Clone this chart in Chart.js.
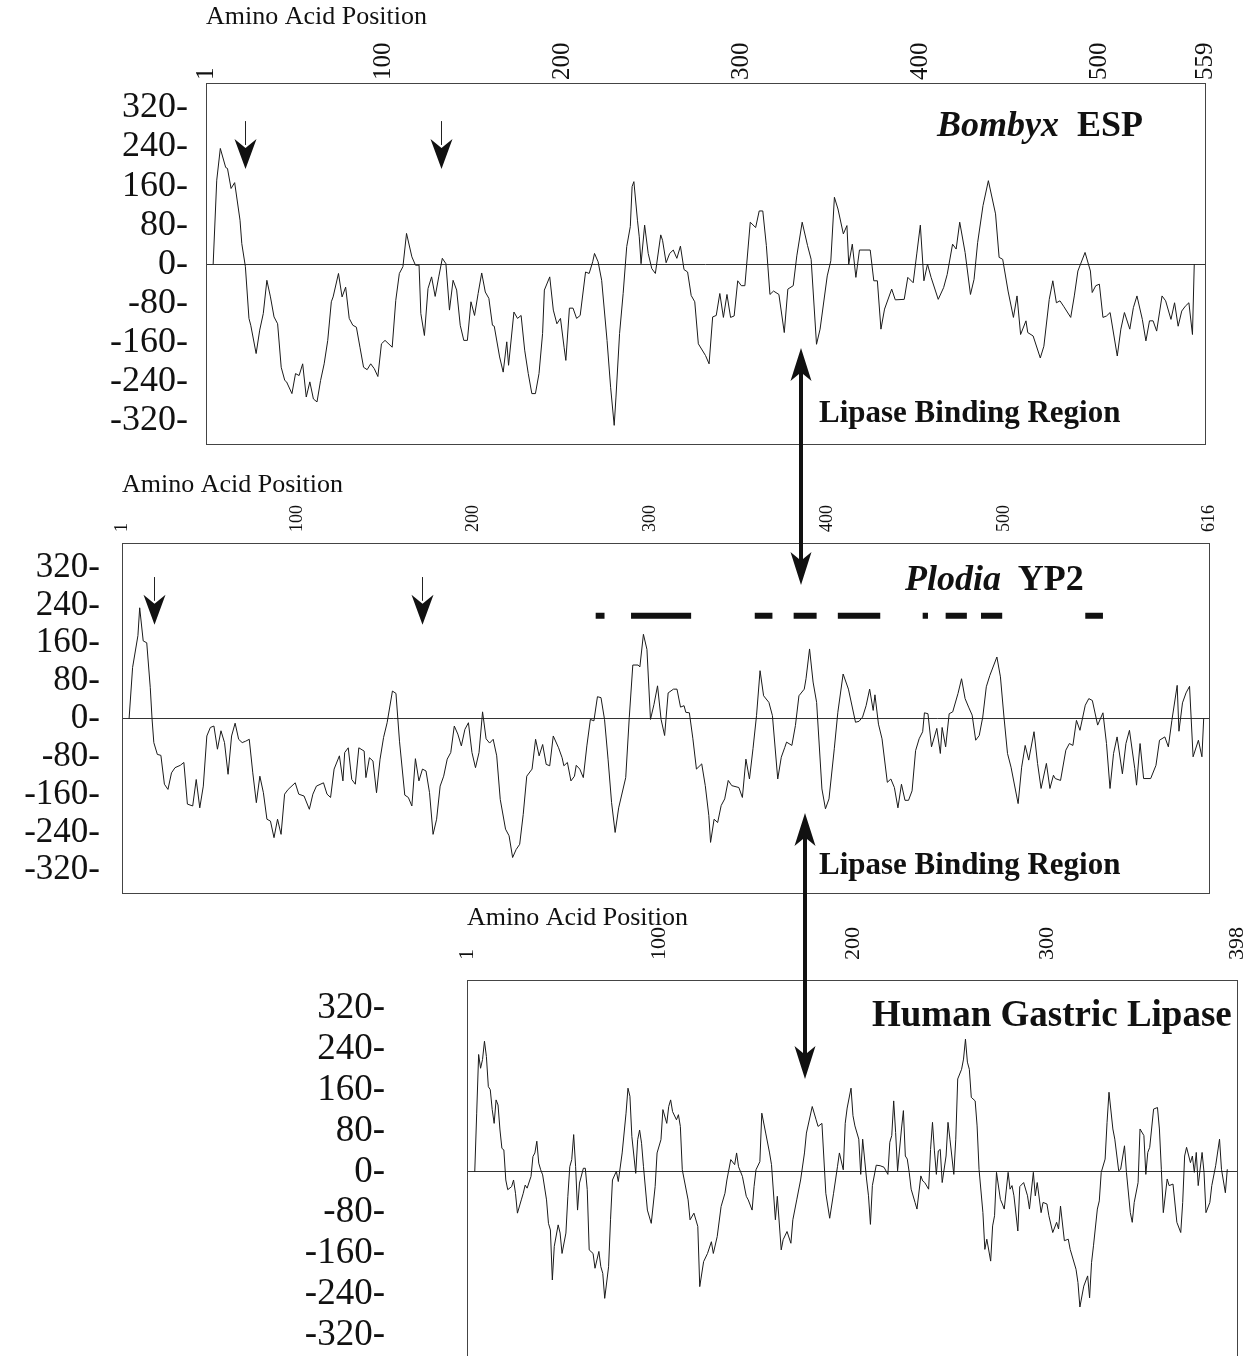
<!DOCTYPE html>
<html>
<head>
<meta charset="utf-8">
<script src="https://cdn.jsdelivr.net/npm/chart.js@4.4.1/dist/chart.umd.min.js"></script>
<style>
html,body{margin:0;padding:0;background:#fff;overflow:hidden;width:1257px;height:1356px;}
canvas{position:absolute;left:0;}
.lbl{position:absolute;font-family:'Liberation Serif','Times New Roman',serif;font-weight:bold;color:#111;white-space:nowrap;line-height:1;}
svg{position:absolute;left:0;top:0;}
</style>
</head>
<body>
<canvas id="c1" width="1257" height="484" style="top:0px"></canvas>
<canvas id="c2" width="1257" height="476" style="top:460px"></canvas>
<canvas id="c3" width="1257" height="600" style="top:875px"></canvas>

<div class="lbl" style="left:937px;top:106px;font-size:36px"><i>Bombyx</i>&nbsp; ESP</div>
<div class="lbl" style="left:905px;top:560px;font-size:36px"><i>Plodia</i>&nbsp; YP2</div>
<div class="lbl" style="left:872px;top:995px;font-size:37px">Human Gastric Lipase</div>
<div class="lbl" style="left:819px;top:396px;font-size:31px">Lipase Binding Region</div>
<div class="lbl" style="left:819px;top:848px;font-size:31px">Lipase Binding Region</div>

<svg width="1257" height="1356" viewBox="0 0 1257 1356">
  <g fill="#111">
    <path d="M801 348 L811.5 381 L803 374 L803 559 L811.5 552 L801 585 L790.5 552 L799 559 L799 374 L790.5 381 Z"/>
    <path d="M805 813 L815.5 846 L807 839 L807 1053 L815.5 1046 L805 1079 L794.5 1046 L803 1053 L803 839 L794.5 846 Z"/>
  </g>
</svg>

<script>
// ---------- Data ----------
const yTicks = [320, 240, 160, 80, 0, -80, -160, -240, -320];
const axisTitle = 'Amino Acid Position';

// Bombyx ESP
const bombyxTicks = [1, 100, 200, 300, 400, 500, 559];
const bombyxPos = [5,7,9,12,13,15,17,20,21,23,25,26,29,31,33,35,37,39,41,43,45,46,49,51,53,55,57,59,61,63,65,67,69,71,72,75,77,79,81,83,85,87,89,91,93,95,97,99,101,105,107,109,111,113,116,118,120,121,123,125,127,129,131,133,135,137,139,141,143,145,147,149,151,153,155,157,159,161,162,165,167,169,170,173,175,177,179,181,183,185,187,189,190,193,195,197,199,201,202,204,206,208,210,213,215,217,218,220,222,225,227,229,230,232,234,236,238,239,240,242,243,244,246,248,250,252,255,256,258,260,262,264,266,268,270,272,274,276,280,282,284,286,288,290,292,294,296,298,300,302,305,308,310,312,314,316,318,321,324,326,329,331,334,337,339,342,344,348,350,352,354,357,359,360,362,364,366,372,374,376,378,380,384,386,391,393,396,398,400,402,404,406,410,413,415,418,420,422,425,428,430,432,435,438,442,444,446,449,452,454,456,459,460,463,467,469,472,474,476,478,480,484,486,488,492,495,496,498,500,502,504,506,510,512,514,517,519,521,524,526,528,530,532,535,537,540,542,544,546,548,550,552,553];
const bombyxVal = [0,172,237,198,196,155,167,90,42,-5,-111,-125,-183,-135,-101,-33,-67,-108,-122,-211,-238,-241,-265,-224,-228,-204,-272,-241,-276,-282,-238,-204,-156,-77,-67,-19,-67,-47,-111,-125,-129,-170,-211,-216,-204,-214,-230,-163,-156,-170,-74,-19,-5,63,15,-2,-2,-101,-146,-50,-26,-66,-26,12,1,-94,-33,-53,-125,-156,-156,-77,-105,-60,-18,-57,-70,-125,-127,-190,-221,-159,-207,-98,-111,-105,-176,-224,-265,-265,-224,-142,-53,-26,-94,-122,-111,-170,-197,-90,-90,-111,-105,-16,-19,5,22,5,-33,-156,-252,-330,-272,-142,-60,36,77,159,169,90,56,1,80,22,-9,-19,60,49,3,22,29,12,37,-11,-16,-64,-77,-163,-187,-204,-108,-105,-60,-109,-62,-109,-106,-34,-44,-44,86,75,109,109,38,-62,-55,-62,-140,-51,-44,17,86,38,10,-164,-133,-24,7,137,113,62,79,0,41,-27,29,29,-34,-34,-133,-92,-51,-73,-72,-27,-38,21,80,-34,0,-27,-72,-48,-21,41,31,86,24,-62,-31,44,120,171,103,14,10,-55,-109,-65,-144,-116,-140,-147,-192,-168,-72,-34,-79,-75,-86,-109,-65,-14,24,-14,-58,-44,-41,-109,-106,-99,-188,-133,-99,-133,-89,-65,-113,-157,-116,-116,-137,-65,-75,-113,-79,-127,-96,-86,-79,-144,0];
const bombyxArrowPos = [23, 132];
const bombyxArrowTop = 293, bombyxArrowTip = 195;

// Plodia YP2
const plodiaTicks = [1, 100, 200, 300, 400, 500, 616];
const plodiaPos = [5,7,10,11,13,15,17,18,19,21,23,25,27,29,31,34,36,38,41,43,45,47,49,51,53,55,57,59,61,63,65,67,69,71,73,75,77,79,81,83,85,87,89,91,93,95,99,101,104,107,109,111,115,117,119,121,124,126,127,129,131,133,135,138,139,141,143,145,147,149,151,154,156,158,161,163,165,167,169,171,173,175,177,179,181,183,185,187,189,191,193,195,197,199,201,203,205,207,209,211,213,215,218,220,222,224,226,228,230,233,235,237,239,241,243,245,248,250,251,253,255,257,258,260,262,264,266,268,270,272,274,276,278,280,282,286,288,290,293,294,296,298,300,302,304,306,308,310,313,315,317,319,320,322,324,326,329,331,333,334,336,338,340,342,344,346,350,352,354,356,358,360,362,364,367,369,372,374,376,377,380,382,384,387,388,390,392,394,397,399,401,404,406,409,412,416,418,420,422,424,426,427,429,431,434,436,438,440,442,444,446,448,450,452,454,455,457,459,462,464,465,467,469,471,474,476,478,480,482,484,486,488,490,492,496,498,500,502,504,508,510,512,514,517,519,521,524,526,528,529,532,535,537,539,541,543,546,548,550,553,556,558,560,562,564,567,569,571,574,575,577,579,583,586,588,591,593,595,598,599,601,603,605,607,610,612,613];
const plodiaVal = [0,109,176,235,165,161,66,0,-50,-75,-77,-138,-149,-114,-103,-98,-92,-180,-184,-128,-188,-142,-36,-18,-15,-64,-25,-50,-117,-36,-9,-43,-50,-47,-43,-114,-177,-121,-156,-212,-216,-251,-212,-244,-159,-149,-135,-159,-163,-191,-159,-142,-135,-159,-166,-106,-78,-131,-71,-61,-128,-138,-61,-68,-124,-82,-89,-156,-85,-39,-8,59,54,-47,-161,-166,-184,-84,-131,-106,-110,-156,-244,-212,-142,-121,-85,-71,-15,-32,-57,-22,-8,-71,-103,-71,15,-42,-51,-43,-78,-170,-233,-247,-293,-276,-265,-202,-121,-106,-43,-78,-54,-96,-99,-36,-61,-82,-99,-92,-131,-121,-98,-106,-124,-57,-1,-4,47,45,-1,-85,-177,-240,-188,-124,3,114,114,110,179,147,-1,31,70,-1,-35,55,63,63,25,28,14,13,-42,-106,-95,-141,-204,-261,-212,-219,-183,-169,-130,-141,-145,-166,-85,-127,-63,7,102,49,35,7,-127,-81,-60,-49,-56,-14,49,63,85,148,78,35,-148,-190,-169,-63,14,95,63,-7,-5,4,28,63,18,51,-11,-42,-134,-127,-145,-188,-138,-172,-172,-152,-67,-42,-27,13,11,-59,-20,-73,-18,-59,11,15,54,85,43,25,8,-45,-35,4,68,92,131,89,4,-73,-102,-179,-102,-56,-87,-27,-94,-147,-94,-147,-119,-126,-130,-66,-52,-56,-3,-24,29,43,39,-13,13,-52,-147,-73,-38,-116,-52,-24,-105,-140,-52,-126,-126,-98,-45,-38,-59,-3,71,-26,34,55,69,-80,-45,-80,1];
const plodiaArrowPos = [19, 171];
const plodiaArrowTop = 300, plodiaArrowTip = 199;
// bars marking regions (start, end) at a fixed level
const plodiaBarStart = [269, 289, 359, 381, 406, 454, 467, 487, 546];
const plodiaBarEnd   = [274, 323, 369, 394, 430, 457, 479, 499, 556];
const plodiaBarLevel = 218;

// Human Gastric Lipase
const hglTicks = [1, 100, 200, 300, 398];
const hglPos = [5,6,7,8,9,10,11,12,13,14,15,16,17,18,19,20,21,22,24,25,26,27,29,30,31,32,34,35,36,37,38,39,40,42,43,44,45,46,48,49,50,52,53,54,55,56,57,58,59,61,62,63,64,66,67,69,70,71,72,74,75,76,78,79,81,83,84,85,86,88,89,90,91,92,94,96,98,99,101,102,104,105,106,107,109,110,111,112,115,116,118,120,121,123,125,127,128,130,132,134,135,137,139,140,141,143,145,146,148,149,150,152,153,155,157,158,160,161,163,164,166,168,169,171,173,175,176,179,181,182,184,186,188,190,192,193,195,196,197,199,200,201,203,204,205,207,208,209,210,212,214,216,218,219,220,221,222,223,225,226,227,228,229,230,232,233,235,236,237,239,240,241,242,243,244,245,246,248,249,250,252,253,254,256,257,258,259,260,261,263,264,265,267,268,269,271,272,273,274,276,277,278,280,281,282,283,285,286,288,290,291,293,294,295,297,298,300,301,303,305,306,307,309,311,312,315,316,317,319,321,322,323,324,326,327,328,330,331,332,334,335,337,338,340,341,343,344,345,347,348,350,351,352,353,355,357,358,359,360,362,363,365,367,369,370,371,372,374,375,376,377,378,380,381,382,384,385,387,389,390,392,393];
const hglVal = [0,115,230,203,220,256,226,167,161,122,95,141,131,82,46,43,-16,-35,-29,-16,-42,-81,-55,-42,-26,-32,-9,30,37,60,17,4,-6,-55,-101,-114,-212,-146,-104,-120,-160,-120,-48,10,24,73,10,-75,-22,7,7,-35,-153,-160,-189,-156,-186,-199,-248,-186,-94,-16,1,-19,37,115,164,148,69,-3,63,82,56,10,-75,-101,-29,37,63,122,95,128,141,118,102,112,89,4,-55,-94,-81,-107,-225,-176,-160,-137,-160,-127,-68,-42,-16,24,14,37,10,-9,-48,-55,-75,-29,4,20,115,76,37,14,-94,-48,-153,-133,-117,-140,-94,-55,-16,37,76,128,102,89,95,-42,-91,-42,10,37,4,95,125,164,110,90,64,-5,64,-14,-47,-103,-27,13,12,9,-5,58,71,139,77,2,84,120,31,25,-1,-34,-60,-73,-8,-18,-21,-34,44,97,41,-5,41,44,-21,31,97,64,-5,64,182,201,221,260,215,201,146,139,90,5,-80,-152,-132,-175,-106,-86,-1,-54,-63,-73,-1,-34,-27,-47,-116,-29,-21,-47,-73,-1,-47,-21,-80,-60,-63,-86,-119,-99,-112,-67,-135,-132,-152,-191,-217,-265,-224,-204,-247,-178,-145,-73,-57,-1,25,97,156,84,64,2,5,51,-1,-80,-99,-60,-21,84,71,-5,38,48,123,126,84,5,-80,-14,-27,-24,-99,-119,-60,31,48,18,31,-1,38,-27,38,-1,-80,-60,-27,12,64,5,-41,5];

// ---------- Helpers ----------
const SERIF = "'Liberation Serif','Times New Roman',serif";
const toPts = (xs, ys) => xs.map((x, i) => ({x: x, y: ys[i]}));
function barPts(starts, ends, level) {
  const out = [];
  starts.forEach((s, i) => { out.push({x: s, y: level}, {x: ends[i], y: level}, {x: (ends[i] + (starts[i+1] || ends[i]+1)) / 2, y: null}); });
  return out;
}

const boxPlugin = {
  id: 'box',
  afterDraw(chart) {
    const a = chart.chartArea, c = chart.ctx;
    c.save(); c.strokeStyle = '#444'; c.lineWidth = 1;
    c.strokeRect(Math.round(a.left) + 0.5, Math.round(a.top) + 0.5, Math.round(a.right - a.left), Math.round(a.bottom - a.top));
    c.restore();
  }
};
const arrowPlugin = {
  id: 'downArrows',
  afterDatasetsDraw(chart, args, opts) {
    if (!opts.pos) return;
    const c = chart.ctx, xs = chart.scales.x, ys = chart.scales.y;
    c.save(); c.strokeStyle = '#222'; c.fillStyle = '#111'; c.lineWidth = 1;
    opts.pos.forEach(p => {
      const px = Math.round(xs.getPixelForValue(p)) + 0.5;
      const pt = ys.getPixelForValue(opts.top), pb = ys.getPixelForValue(opts.tip);
      const hl = 30, hw = 11;
      c.beginPath(); c.moveTo(px, pt); c.lineTo(px, pb - hl + 6); c.stroke();
      c.beginPath(); c.moveTo(px, pb); c.lineTo(px - hw, pb - hl); c.lineTo(px, pb - hl + 9); c.lineTo(px + hw, pb - hl); c.closePath(); c.fill();
    });
    c.restore();
  }
};

function makeChart(id, o) {
  const datasets = [{data: toPts(o.pos, o.val), borderColor: '#1a1a1a', borderWidth: 1, pointRadius: 0, tension: 0, fill: false}];
  if (o.bars) datasets.push({data: o.bars, borderColor: '#111', borderWidth: 6, borderCapStyle: 'butt', pointRadius: 0, spanGaps: false, fill: false});
  return new Chart(document.getElementById(id), {
    type: 'line',
    data: {datasets},
    options: {
      responsive: false, animation: false, events: [],
      layout: {padding: {left: 0, right: o.padRight, top: 0, bottom: 0}},
      plugins: {legend: {display: false}, tooltip: {enabled: false}, downArrows: o.arrows || {}},
      scales: {
        x: {
          type: 'linear', position: 'top', min: 1, max: o.xMax,
          afterBuildTicks: s => { s.ticks = o.xTicks.map(v => ({value: v})); },
          afterFit: s => { s.height = o.xH; },
          grid: {display: false, drawTicks: false}, border: {display: false},
          ticks: {autoSkip: false, minRotation: 90, maxRotation: 90, padding: o.xPad, color: '#111',
                  labelOffset: o.xFont * 1.2,
                  font: {family: SERIF, size: o.xFont}, callback: v => String(v)},
          title: {display: true, text: axisTitle, align: 'start', color: '#111',
                  font: {family: SERIF, size: 26}, padding: {top: o.titleTop, bottom: 0}}
        },
        y: {
          type: 'linear', min: o.yMin, max: o.yMax,
          afterBuildTicks: s => { s.ticks = yTicks.map(v => ({value: v})); },
          afterFit: s => { s.width = o.yW; },
          grid: {drawTicks: false, lineWidth: 1, color: c => (c.tick && c.tick.value === 0) ? '#333' : 'rgba(0,0,0,0)'},
          border: {display: false},
          ticks: {autoSkip: false, padding: o.yPad, color: '#111', font: {family: SERIF, size: o.yFont}, callback: v => String(v) + '-'}
        }
      }
    },
    plugins: [boxPlugin, arrowPlugin]
  });
}

makeChart('c1', {pos: bombyxPos, val: bombyxVal, xMax: 559, xTicks: bombyxTicks, yMin: -369, yMax: 371,
  xH: 83, yW: 206, padRight: 52, xPad: 3, xFont: 25, yFont: 36, yPad: 18, titleTop: 2,
  arrows: {pos: bombyxArrowPos, top: bombyxArrowTop, tip: bombyxArrowTip}});
makeChart('c2', {pos: plodiaPos, val: plodiaVal, xMax: 616, xTicks: plodiaTicks, yMin: -368, yMax: 372,
  xH: 83, yW: 122, padRight: 48, xPad: 11, xFont: 18, yFont: 35, yPad: 22, titleTop: 10,
  arrows: {pos: plodiaArrowPos, top: plodiaArrowTop, tip: plodiaArrowTip},
  bars: barPts(plodiaBarStart, plodiaBarEnd, plodiaBarLevel)});
makeChart('c3', {pos: hglPos, val: hglVal, xMax: 398, xTicks: hglTicks, yMin: -390, yMax: 376,
  xH: 105, yW: 467, padRight: 17, xPad: 20, xFont: 22, yFont: 37, yPad: 82, titleTop: 28});
</script>
</body>
</html>
